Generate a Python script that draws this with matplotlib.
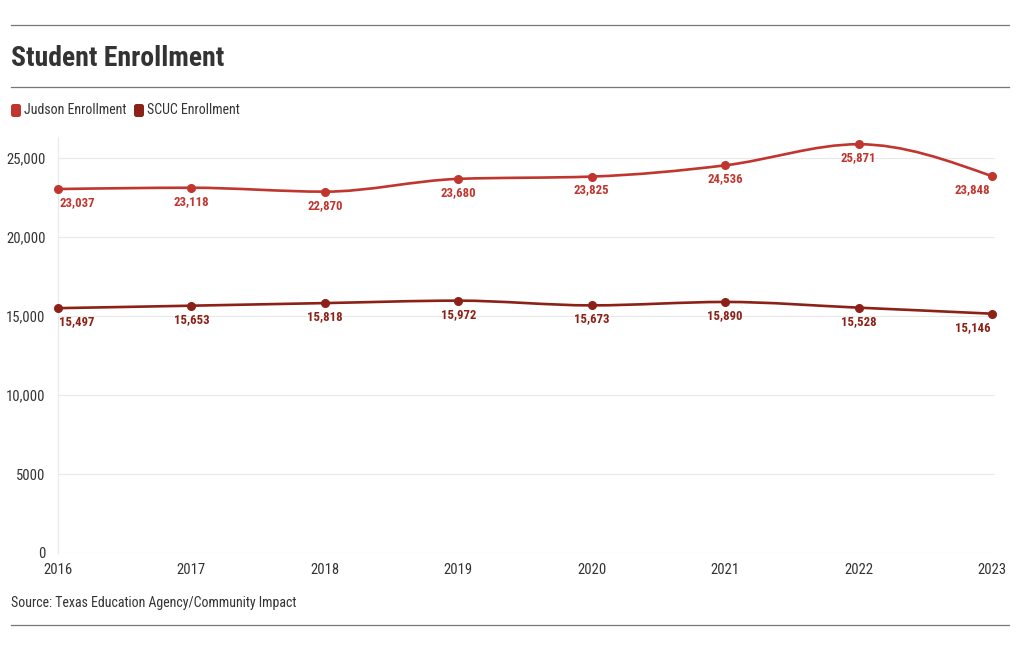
import matplotlib.pyplot as plt
import numpy as np
from matplotlib.path import Path
from matplotlib.patches import PathPatch, FancyBboxPatch
from matplotlib.lines import Line2D
from matplotlib.transforms import IdentityTransform
from matplotlib.ticker import FuncFormatter

FAM = ['Roboto Condensed', 'Roboto', 'DejaVu Sans']
plt.rcParams['font.family'] = FAM

years = [2016, 2017, 2018, 2019, 2020, 2021, 2022, 2023]
judson = [23037, 23118, 22870, 23680, 23825, 24536, 25871, 23848]
scuc = [15497, 15653, 15818, 15972, 15673, 15890, 15528, 15146]
series_names = ["Judson Enrollment", "SCUC Enrollment"]
colors = ["#c0362f", "#8c2117"]
yticks = [0, 5000, 10000, 15000, 20000, 25000]

W, H = 1020, 650


def monotone_path(x, y):
    # cubic bezier path like d3 curveMonotoneX
    x = np.asarray(x, float)
    y = np.asarray(y, float)
    n = len(x)
    h = np.diff(x)
    s = np.diff(y) / h
    t = np.zeros(n)
    for i in range(1, n - 1):
        p = (s[i-1] * h[i] + s[i] * h[i-1]) / (h[i-1] + h[i])
        t[i] = (np.sign(s[i-1]) + np.sign(s[i])) * min(abs(s[i-1]), abs(s[i]), 0.5 * abs(p))
    t[0] = (3 * s[0] - t[1]) / 2
    t[-1] = (3 * s[-1] - t[-2]) / 2
    verts = [(x[0], y[0])]
    codes = [Path.MOVETO]
    for i in range(n - 1):
        dx = (x[i+1] - x[i]) / 3
        verts += [(x[i] + dx, y[i] + dx * t[i]),
                  (x[i+1] - dx, y[i+1] - dx * t[i+1]),
                  (x[i+1], y[i+1])]
        codes += [Path.CURVE4] * 3
    return Path(verts, codes)


fig = plt.figure(figsize=(W / 100, H / 100), dpi=100)
ax = fig.add_axes([58 / W, (H - 553) / H, (995 - 58) / W, (553 - 137) / H])

for vals, col in zip([judson, scuc], colors):
    ax.add_patch(PathPatch(monotone_path(years, vals), fill=False, edgecolor=col,
                           lw=1.9, capstyle='round', zorder=3))
    ax.plot(years, vals, 'o', color=col, ms=5.5, zorder=4, clip_on=False)
    for i, (xv, yv) in enumerate(zip(years, vals)):
        ha = 'center'
        dx = 0
        if i == 0:
            ha, dx = 'left', 1
        elif i == len(years) - 1:
            ha, dx = 'right', -1
        ax.annotate(f"{yv:,}", (xv, yv), xytext=(dx, -5), textcoords='offset points',
                    ha=ha, va='top', color=col, fontsize=9.2, fontweight='bold', zorder=5)

ax.set_xlim(2016, 2016 + 7 * (995 - 58) / (992 - 58))
ax.set_ylim(0, 26330)
ax.set_xticks(years)
ax.set_yticks(yticks)
ax.yaxis.set_major_formatter(FuncFormatter(lambda v, p: "5000" if v == 5000 else ("0" if v == 0 else f"{int(v):,}")))
ax.grid(axis='y', color='#e9e9e9', lw=0.8)
ax.set_axisbelow(True)
for sp in ['top', 'right', 'bottom']:
    ax.spines[sp].set_visible(False)
ax.spines['left'].set_color('#e9e9e9')
ax.spines['left'].set_linewidth(0.8)
ax.tick_params(axis='both', length=0, labelsize=10.5, labelcolor='#333333')
ax.tick_params(axis='y', pad=9)
ax.tick_params(axis='x', pad=7)

# rules
for yy in [25, 87, 625]:
    fig.add_artist(Line2D([11 / W, 1009 / W], [1 - yy / H] * 2, color='#777777', lw=0.9))

fig.text(11 / W, 1 - 58 / H, "Student Enrollment", fontsize=20, fontweight='bold',
         color='#333333', va='center', ha='left')

# legend
lx = [11, 134]
for x0, name, col in zip(lx, series_names, colors):
    fig.add_artist(FancyBboxPatch((x0, H - 117), 10, 13, boxstyle='round,pad=0,rounding_size=2.5',
                                  facecolor=col, edgecolor='none', transform=IdentityTransform()))
    fig.text((x0 + 13) / W, 1 - 110 / H, name, fontsize=10, color='#333333', va='center', ha='left')

fig.text(11 / W, 1 - 603 / H, "Source: Texas Education Agency/Community Impact", fontsize=10,
         color='#333333', va='center', ha='left')

fig.savefig("out.png", dpi=100)
